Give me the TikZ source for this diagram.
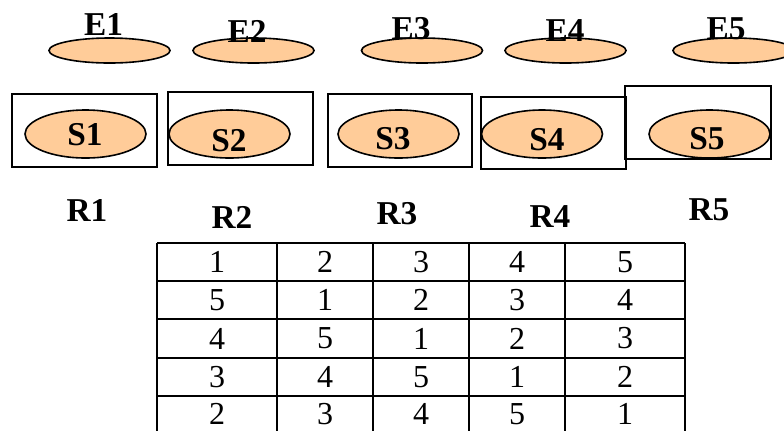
\documentclass[tikz,border=0pt]{standalone}
\usepackage{fontspec}
\setmainfont{Liberation Serif}
\usetikzlibrary{shapes.geometric}
\definecolor{peach}{RGB}{255,204,153}

\begin{document}
\begin{tikzpicture}
[x=0.75pt,y=-0.75pt,line width=1.2pt,every node/.style={inner sep=0pt},
 eset/.style={ellipse,draw,fill=peach,minimum width=90.75pt,minimum height=18.75pt},
 sset/.style={ellipse,draw,fill=peach,minimum width=90.75pt,minimum height=36pt},
 lbl/.style={font=\fontsize{25}{30}\selectfont\bfseries},
 num/.style={font=\fontsize{24}{28}\selectfont}]

\useasboundingbox (0,0) rectangle (784,430);
\clip (0,0) rectangle (784,430);

\node[eset] (e1) at (109.5,50.5) {};
\node[eset] (e2) at (253.5,50.5) {};
\node[eset] (e3) at (422,50.5) {};
\node[eset] (e4) at (565.5,50.5) {};
\node[eset] (e5) at (733.5,50.5) {};
\node[lbl] (e1l) at (103.5,24.5) {E1};
\node[lbl] (e2l) at (247,31) {E2};
\node[lbl] (e3l) at (411,29) {E3};
\node[lbl] (e4l) at (565,31) {E4};
\node[lbl] (e5l) at (726,29) {E5};

\draw (12,94) rectangle (157,167);
\draw (168,92) rectangle (313,165);
\draw (328,94) rectangle (472,167);
\draw (481,97) rectangle (626,169);
\draw (625,86) rectangle (771,159);

\node[sset] (s1) at (85.5,134) {};
\node[sset] (s2) at (229.5,134) {};
\node[sset] (s3) at (398.5,134) {};
\node[sset] (s4) at (542,134) {};
\node[sset] (s5) at (709.5,134) {};
\node[lbl] (s1l) at (85,135) {S1};
\node[lbl] (s2l) at (229,141) {S2};
\node[lbl] (s3l) at (393,138.5) {S3};
\node[lbl] (s4l) at (547,140) {S4};
\node[lbl] (s5l) at (707,139) {S5};

\node[lbl] (r1) at (87,210) {R1};
\node[lbl] (r2) at (232,217) {R2};
\node[lbl] (r3) at (397,214) {R3};
\node[lbl] (r4) at (550,217) {R4};
\node[lbl] (r5) at (709,210) {R5};

\draw[line width=1pt] (157,243) -- (685,243);
\draw[line width=1pt] (157,281) -- (685,281);
\draw[line width=1pt] (157,319) -- (685,319);
\draw[line width=1pt] (157,358) -- (685,358);
\draw[line width=1pt] (157,396) -- (685,396);
\draw[line width=1pt] (157,434) -- (685,434);
\draw[line width=1pt] (157,243) -- (157,440);
\draw[line width=1pt] (277,243) -- (277,440);
\draw[line width=1pt] (373,243) -- (373,440);
\draw[line width=1pt] (469,243) -- (469,440);
\draw[line width=1pt] (565,243) -- (565,440);
\draw[line width=1pt] (685,243) -- (685,440);

\node[num] (c11) at (217,262) {1};
\node[num] (c12) at (325,262) {2};
\node[num] (c13) at (421,262) {3};
\node[num] (c14) at (517,262) {4};
\node[num] (c15) at (625,262) {5};
\node[num] (c21) at (217,300) {5};
\node[num] (c22) at (325,300) {1};
\node[num] (c23) at (421,300) {2};
\node[num] (c24) at (517,300) {3};
\node[num] (c25) at (625,300) {4};
\node[num] (c31) at (217,338.5) {4};
\node[num] (c32) at (325,338.5) {5};
\node[num] (c33) at (421,338.5) {1};
\node[num] (c34) at (517,338.5) {2};
\node[num] (c35) at (625,338.5) {3};
\node[num] (c41) at (217,377) {3};
\node[num] (c42) at (325,377) {4};
\node[num] (c43) at (421,377) {5};
\node[num] (c44) at (517,377) {1};
\node[num] (c45) at (625,377) {2};
\node[num] (c51) at (217,414) {2};
\node[num] (c52) at (325,414) {3};
\node[num] (c53) at (421,414) {4};
\node[num] (c54) at (517,414) {5};
\node[num] (c55) at (625,414) {1};
\end{tikzpicture}
\end{document}
